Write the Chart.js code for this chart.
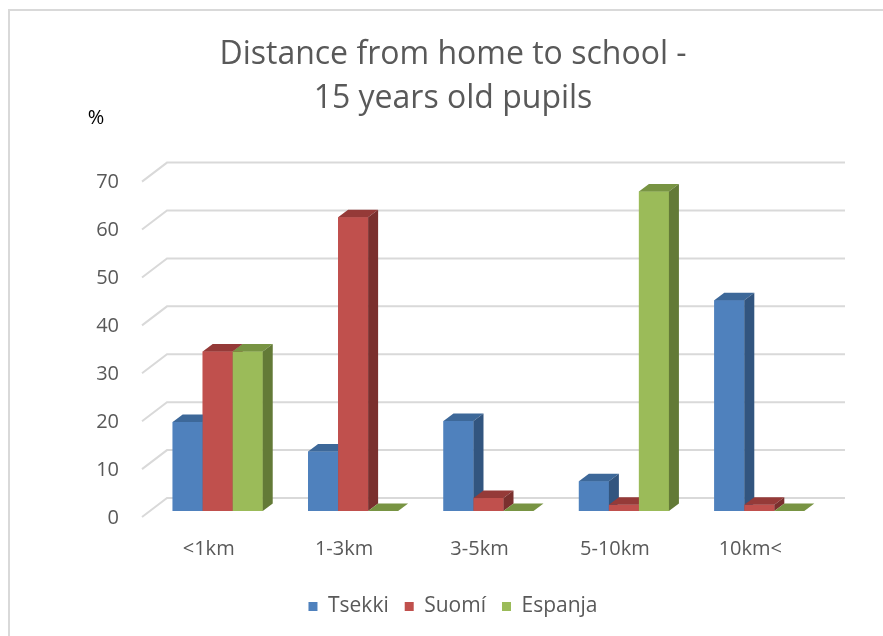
<!DOCTYPE html>
<html>
<head>
<meta charset="utf-8">
<script src="https://cdn.jsdelivr.net/npm/chart.js@4.4.1/dist/chart.umd.min.js"></script>
<style>
  html, body { margin: 0; padding: 0; background: #fff; overflow: hidden; }
  #wrap { position: relative; width: 883px; height: 636px; }
  #frame { position: absolute; left: 8px; top: 9px; width: 2000px; height: 2000px;
           border-top: 2px solid #d9d9d9; border-left: 2px solid #d9d9d9; }
  canvas { position: absolute; left: 0; top: 0; }
</style>
</head>
<body>
<div id="wrap">
  <div id="frame"></div>
  <canvas id="c" width="883" height="636"></canvas>
</div>
<script>
const categories = ['<1km', '1-3km', '3-5km', '5-10km', '10km<'];
const seriesNames = ['Tsekki', 'Suomí', 'Espanja'];
const tsekki  = [18.6, 12.4, 18.8, 6.2, 44.0];
const suomi   = [33.3, 61.3, 2.7, 1.3, 1.3];
const espanja = [33.3, 0, 0, 66.7, 0];
const yTickMin = 0, yTickMax = 70, yTickStep = 10;
const titleLines = ['Distance from home to school -', '15 years old pupils'];
const unitLabel = '%';

const frontColors = ['#4F81BD', '#C0504D', '#9BBB59'];
const topColors   = ['#3D6899', '#953A38', '#789443'];
const sideColors  = ['#32557F', '#7A302E', '#637A37'];
const DX = 10, DY = 7.5;

function poly(ctx, pts, color) {
  ctx.beginPath();
  ctx.moveTo(pts[0][0], pts[0][1]);
  for (let k = 1; k < pts.length; k++) ctx.lineTo(pts[k][0], pts[k][1]);
  ctx.closePath();
  ctx.fillStyle = color;
  ctx.fill();
}

const wallPlugin = {
  id: 'wall',
  beforeDatasetsDraw(chart) {
    const ctx = chart.ctx, ys = chart.scales.y;
    ctx.save();
    ctx.strokeStyle = '#d9d9d9';
    ctx.lineWidth = 2;
    ys.ticks.forEach(t => {
      const y = ys.getPixelForValue(t.value);
      ctx.beginPath();
      ctx.moveTo(142, y + 6);
      ctx.lineTo(167, y - 13);
      ctx.lineTo(845, y - 13);
      ctx.stroke();
    });
    ctx.restore();
  }
};

const bars3d = {
  id: 'bars3d',
  afterDatasetsDraw(chart) {
    const ctx = chart.ctx;
    ctx.save();
    const n = chart.data.labels.length;
    for (let j = 0; j < n; j++) {
      for (let i = 0; i < chart.data.datasets.length; i++) {
        const bar = chart.getDatasetMeta(i).data[j];
        const p = bar.getProps(['x', 'y', 'base', 'width'], true);
        const L = p.x - p.width / 2, R = p.x + p.width / 2;
        ctx.fillStyle = frontColors[i];
        ctx.fillRect(L, p.y, p.width, p.base - p.y);
        poly(ctx, [[L, p.y], [R, p.y], [R + DX, p.y - DY], [L + DX, p.y - DY]], topColors[i]);
        poly(ctx, [[R, p.y], [R + DX, p.y - DY], [R + DX, p.base - DY], [R, p.base]], sideColors[i]);
      }
    }
    ctx.restore();
  }
};

const unitPlugin = {
  id: 'unit',
  afterDraw(chart) {
    const ctx = chart.ctx;
    ctx.save();
    ctx.font = '20px "Open Sans"';
    ctx.fillStyle = '#000';
    ctx.textAlign = 'center';
    ctx.textBaseline = 'middle';
    ctx.fillText(unitLabel, 96, 118);
    ctx.restore();
  }
};

Chart.defaults.font.family = '"Open Sans"';

new Chart(document.getElementById('c'), {
  type: 'bar',
  data: {
    labels: categories,
    datasets: [
      { label: seriesNames[0], data: tsekki,  backgroundColor: frontColors[0] },
      { label: seriesNames[1], data: suomi,   backgroundColor: frontColors[1] },
      { label: seriesNames[2], data: espanja, backgroundColor: frontColors[2] }
    ]
  },
  options: {
    responsive: false,
    animation: false,
    devicePixelRatio: 1,
    layout: { padding: { top: 10, left: 79, right: 56, bottom: 9 } },
    datasets: { bar: { categoryPercentage: 0.665, barPercentage: 1.0, borderWidth: 0 } },
    scales: {
      x: {
        grid: { display: false, drawTicks: false },
        border: { display: false },
        ticks: { color: '#595959', font: { size: 20 }, padding: 26, labelOffset: -9, maxRotation: 0 },
        afterFit(s) { s.height = 69; s.paddingLeft = 0; s.paddingRight = 0; }
      },
      y: {
        min: yTickMin, max: yTickMax,
        grid: { display: false, drawTicks: false },
        border: { display: false },
        ticks: { stepSize: yTickStep, color: '#595959', font: { size: 20 }, padding: 31, labelOffset: 7 },
        afterFit(s) { s.width = 71; s.paddingTop = 0; s.paddingBottom = 0; }
      }
    },
    plugins: {
      title: {
        display: true,
        text: titleLines,
        color: '#595959',
        font: { size: 32, weight: 'normal', lineHeight: 1.4 },
        padding: { top: 22, bottom: 54 }
      },
      legend: {
        position: 'bottom',
        labels: { color: '#595959', font: { size: 21 }, boxWidth: 9, boxHeight: 9, padding: 16 }
      },
      tooltip: { enabled: false }
    }
  },
  plugins: [wallPlugin, bars3d, unitPlugin]
});
</script>
</body>
</html>
